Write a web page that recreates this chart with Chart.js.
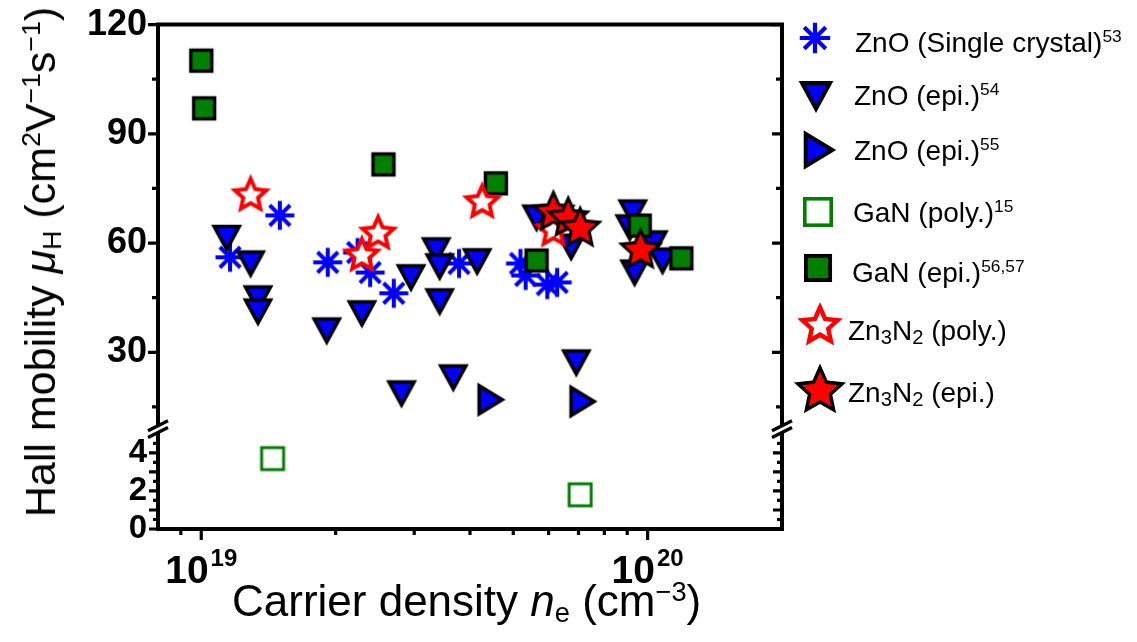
<!DOCTYPE html>
<html lang="en">
<head>
<meta charset="UTF-8">
<title>Hall mobility vs carrier density</title>
<script src="https://cdn.jsdelivr.net/npm/chart.js@4.4.0/dist/chart.umd.min.js"></script>
<style>
  body { margin: 0; background: #fff; }
  #wrap { position: relative; width: 1137px; height: 642px; font-family: "Liberation Sans", Arial, sans-serif; color: #000; }
  #chart { position: absolute; left: 0; top: 0; }
  .lbl { position: absolute; white-space: nowrap; line-height: 32px; }
  .lbl sup { font-size: 0.62em; vertical-align: 0.55em; line-height: 0; }
  .lbl sub { font-size: 0.62em; vertical-align: -0.22em; line-height: 0; }
  .legend { font-size: 28px; }
  .legend sub { font-size: 0.72em; }
  #ytitle { left: 40px; top: 262px; font-size: 43px; line-height: 48px; transform: translate(-50%, -50%) rotate(-90deg); }
  #xtitle { left: 232px; top: 577px; font-size: 44px; line-height: 48px; }
</style>
</head>
<body>
<div id="wrap">
  <canvas id="chart" width="1137" height="642"></canvas>
  <div id="ytitle" class="lbl">Hall mobility <i>μ</i><sub>H</sub> (cm<sup>2</sup>V<sup>−1</sup>s<sup>−1</sup>)</div>
  <div id="xtitle" class="lbl">Carrier density <i>n</i><sub>e</sub> (cm<sup>−3</sup>)</div>
</div>
<script>
// carrier density (cm^-3) and Hall mobility (cm2/Vs) per sample set
const xZnOSingle = [1.16e19, 1.50e19, 1.92e19, 2.24e19, 2.39e19, 2.70e19, 3.78e19, 5.19e19, 5.33e19, 5.96e19, 6.27e19];
const yZnOSingle = [56.1, 67.6, 54.7, 57.4, 51.9, 46.2, 54.4, 54.4, 51.1, 48.6, 49.2];

const xZnOEpi54 = [1.14e19, 1.29e19, 1.34e19, 1.34e19, 1.91e19, 2.29e19, 2.95e19, 2.81e19, 3.36e19, 3.42e19, 3.42e19,
                   4.15e19, 3.67e19, 5.64e19, 6.74e19, 6.92e19, 9.26e19, 9.12e19, 1.03e20, 9.35e19, 1.08e20];
const yZnOEpi54 = [61.4, 54.4, 44.8, 41.2, 36.0, 40.7, 50.6, 18.7, 58.0, 53.6, 44.0,
                   55.0, 23.1, 67.0, 59.0, 27.2, 68.4, 64.3, 59.9, 51.9, 55.2];

const xZnOEpi55 = [4.45e19, 7.15e19];
const yZnOEpi55 = [17.0, 16.5];

const xGaNPoly = [1.445e19, 7.06e19];
const yGaNPoly = [3.7, 1.8];

const xGaNEpi = [1.00e19, 1.015e19, 2.56e19, 4.57e19, 5.64e19, 9.6e19, 1.19e20];
const yGaNEpi = [110.1, 97.0, 81.6, 76.4, 55.2, 64.8, 55.8];

const xZn3N2Poly = [1.29e19, 2.29e19, 2.49e19, 4.26e19, 6.15e19];
const yZn3N2Poly = [73.1, 56.6, 62.6, 71.2, 63.5];

const xZn3N2Epi = [6.15e19, 6.64e19, 7.06e19, 9.64e19];
const yZn3N2Epi = [68.4, 66.8, 64.0, 58.0];

// axis ticks
const xMajorTicks = [1e19, 1e20];
const xMajorExp = ['19', '20'];
const xMinorTicks = [9e18, 2e19, 3e19, 4e19, 5e19, 6e19, 7e19, 8e19, 9e19];
const yUpperTicks = [30, 60, 90, 120];
const yUpperMinor = [15, 45, 75, 105];
const yLowerTicks = [0, 2, 4];
const yLowerMarks = [0, 1, 2, 3, 4];
const yLowerMinor = [0.5, 1.5, 2.5, 3.5, 4.5];

const BLUE = '#0000ff', GREEN = '#007f00', RED = '#ff0000';

function starPath(ctx, R, ratio) {
  ctx.beginPath();
  for (let k = 0; k < 10; k++) {
    const r = k % 2 ? R * ratio : R;
    const a = -Math.PI / 2 + k * Math.PI / 5;
    ctx.lineTo(r * Math.cos(a), r * Math.sin(a));
  }
  ctx.closePath();
}

// draws one marker centred on the current origin
function drawMarker(ctx, kind, s) {
  ctx.save();
  ctx.scale(s, s);
  ctx.lineJoin = 'miter';
  if (kind === 'asterisk') {
    ctx.strokeStyle = BLUE;
    ctx.lineWidth = 4;
    ctx.beginPath();
    for (let k = 0; k < 4; k++) {
      const a = k * Math.PI / 4, dx = 14.5 * Math.cos(a), dy = 14.5 * Math.sin(a);
      ctx.moveTo(-dx, -dy);
      ctx.lineTo(dx, dy);
    }
    ctx.stroke();
  } else if (kind === 'triDown') {
    ctx.beginPath();
    ctx.moveTo(-12.5, -11.5); ctx.lineTo(12.5, -11.5); ctx.lineTo(0, 11.5); ctx.closePath();
    ctx.fillStyle = BLUE; ctx.fill();
    ctx.lineWidth = 3.6; ctx.strokeStyle = '#000'; ctx.stroke();
  } else if (kind === 'triRight') {
    ctx.beginPath();
    ctx.moveTo(-11.5, -14); ctx.lineTo(11.5, 0); ctx.lineTo(-11.5, 14); ctx.closePath();
    ctx.fillStyle = BLUE; ctx.fill();
    ctx.lineWidth = 3.6; ctx.strokeStyle = '#000'; ctx.stroke();
  } else if (kind === 'openSquare') {
    ctx.fillStyle = '#fff';
    ctx.fillRect(-11, -11, 22, 22);
    ctx.lineWidth = 3; ctx.strokeStyle = GREEN;
    ctx.strokeRect(-11, -11, 22, 22);
  } else if (kind === 'square') {
    ctx.fillStyle = GREEN;
    ctx.fillRect(-10.5, -10.5, 21, 21);
    ctx.lineWidth = 3.4; ctx.strokeStyle = '#000';
    ctx.strokeRect(-10.5, -10.5, 21, 21);
  } else if (kind === 'starOpen') {
    starPath(ctx, 16.5, 0.47);
    ctx.fillStyle = '#fff'; ctx.fill();
    ctx.lineWidth = 4; ctx.strokeStyle = RED; ctx.stroke();
  } else if (kind === 'starFilled') {
    starPath(ctx, 16.5, 0.47);
    ctx.lineWidth = 6; ctx.strokeStyle = '#000'; ctx.stroke();
    ctx.fillStyle = RED; ctx.fill();
  }
  ctx.restore();
}

function markerImage(kind) {
  const c = document.createElement('canvas');
  c.width = 50; c.height = 50;
  const g = c.getContext('2d');
  g.translate(25, 25);
  drawMarker(g, kind, 1);
  return c;
}

const series = [
  { name: 'ZnO (Single crystal)<sup>53</sup>', xs: xZnOSingle, ys: yZnOSingle, kind: 'asterisk', axis: 'y', lx: 815, ly: 38, tx: 855, ty: 42, s: 1.05 },
  { name: 'ZnO (epi.)<sup>54</sup>', xs: xZnOEpi54, ys: yZnOEpi54, kind: 'triDown', axis: 'y', lx: 816, ly: 96, tx: 854, ty: 95, s: 1.12 },
  { name: 'ZnO (epi.)<sup>55</sup>', xs: xZnOEpi55, ys: yZnOEpi55, kind: 'triRight', axis: 'y', lx: 819, ly: 150, tx: 854, ty: 150, s: 1.15 },
  { name: 'GaN (poly.)<sup>15</sup>', xs: xGaNPoly, ys: yGaNPoly, kind: 'openSquare', axis: 'y2', lx: 818, ly: 212, tx: 853, ty: 212, s: 1.2 },
  { name: 'GaN (epi.)<sup>56,57</sup>', xs: xGaNEpi, ys: yGaNEpi, kind: 'square', axis: 'y', lx: 818, ly: 268, tx: 852, ty: 272, s: 1.15 },
  { name: 'Zn<sub>3</sub>N<sub>2</sub> (poly.)', xs: xZn3N2Poly, ys: yZn3N2Poly, kind: 'starOpen', axis: 'y', lx: 820, ly: 326, tx: 848, ty: 330, s: 1.12 },
  { name: 'Zn<sub>3</sub>N<sub>2</sub> (epi.)', xs: xZn3N2Epi, ys: yZn3N2Epi, kind: 'starFilled', axis: 'y', lx: 820, ly: 391, tx: 848, ty: 392, s: 1.15 }
];

// legend text
const wrap = document.getElementById('wrap');
series.forEach(sr => {
  const d = document.createElement('div');
  d.className = 'lbl legend';
  d.style.left = sr.tx + 'px';
  d.style.top = (sr.ty - 15) + 'px';
  d.innerHTML = sr.name;
  wrap.appendChild(d);
});

// frame, ticks, axis break and legend markers
const framePlugin = {
  id: 'frame',
  beforeDatasetsDraw(chart) {
    const { ctx, chartArea: a, scales } = chart;
    const x = scales.x, yu = scales.y, yl = scales.y2;
    ctx.save();
    ctx.strokeStyle = '#000';
    ctx.lineCap = 'square';
    ctx.lineWidth = 4;
    ctx.beginPath();
    ctx.moveTo(a.left, a.top); ctx.lineTo(a.right, a.top);
    ctx.moveTo(a.left, a.top); ctx.lineTo(a.left, a.bottom);
    ctx.moveTo(a.right, a.top); ctx.lineTo(a.right, a.bottom);
    ctx.moveTo(a.left, a.bottom); ctx.lineTo(a.right, a.bottom);
    ctx.stroke();

    ctx.lineCap = 'butt';
    ctx.lineWidth = 3.2;
    const yTick = (scale, v, len) => {
      const p = scale.getPixelForValue(v);
      ctx.moveTo(a.left, p); ctx.lineTo(a.left - len, p);
      ctx.moveTo(a.right, p); ctx.lineTo(a.right - len, p);
    };
    ctx.beginPath();
    yUpperTicks.forEach(v => yTick(yu, v, 10));
    yUpperMinor.forEach(v => yTick(yu, v, 6));
    yLowerMarks.forEach(v => yTick(yl, v, 9));
    yLowerMinor.forEach(v => yTick(yl, v, 5));
    xMajorTicks.forEach(v => { const p = x.getPixelForValue(v); ctx.moveTo(p, a.bottom); ctx.lineTo(p, a.bottom + 11); });
    xMinorTicks.forEach(v => { const p = x.getPixelForValue(v); ctx.moveTo(p, a.bottom); ctx.lineTo(p, a.bottom + 6); });
    ctx.stroke();

    // x tick labels as powers of ten
    ctx.fillStyle = '#000';
    ctx.textBaseline = 'alphabetic';
    xMajorTicks.forEach((v, i) => {
      const p = x.getPixelForValue(v);
      ctx.font = 'bold 39px "Liberation Sans", Arial, sans-serif';
      const wb = ctx.measureText('10').width;
      ctx.font = 'bold 24px "Liberation Sans", Arial, sans-serif';
      const we = ctx.measureText(xMajorExp[i]).width;
      const left = p - (wb + 2 + we) / 2;
      ctx.font = 'bold 39px "Liberation Sans", Arial, sans-serif';
      ctx.textAlign = 'left';
      ctx.fillText('10', left, a.bottom + 54);
      ctx.font = 'bold 24px "Liberation Sans", Arial, sans-serif';
      ctx.fillText(xMajorExp[i], left + wb + 2, a.bottom + 37);
    });
    ctx.restore();
  },
  afterDraw(chart) {
    const { ctx, chartArea: a, scales } = chart;
    const yb = scales.y.bottom;
    ctx.save();
    [a.left, a.right].forEach(px => {
      const dx = 10, dy = 5, g = 3.4;
      ctx.fillStyle = '#fff';
      ctx.beginPath();
      ctx.moveTo(px - dx, yb - g + dy);
      ctx.lineTo(px + dx, yb - g - dy);
      ctx.lineTo(px + dx, yb + g - dy);
      ctx.lineTo(px - dx, yb + g + dy);
      ctx.closePath();
      ctx.fill();
      ctx.strokeStyle = '#000';
      ctx.lineWidth = 3.4;
      ctx.beginPath();
      ctx.moveTo(px - dx, yb - g + dy); ctx.lineTo(px + dx, yb - g - dy);
      ctx.moveTo(px - dx, yb + g + dy); ctx.lineTo(px + dx, yb + g - dy);
      ctx.stroke();
    });
    series.forEach(sr => {
      ctx.save();
      ctx.translate(sr.lx, sr.ly);
      drawMarker(ctx, sr.kind, sr.s);
      ctx.restore();
    });
    ctx.restore();
  }
};

const tickFont = { family: '"Liberation Sans", Arial, sans-serif', size: 36, weight: 'bold' };

new Chart(document.getElementById('chart'), {
  type: 'scatter',
  data: {
    datasets: series.map((sr, i) => ({
      label: sr.name,
      data: sr.xs.map((x, j) => ({ x: x, y: sr.ys[j] })),
      pointStyle: markerImage(sr.kind),
      pointRadius: 12,
      yAxisID: sr.axis,
      order: series.length - i,
      clip: false
    }))
  },
  options: {
    responsive: false,
    animation: false,
    layout: { padding: { left: 68, top: 24, right: 355, bottom: 0 } },
    plugins: { legend: { display: false }, tooltip: { enabled: false } },
    scales: {
      x: {
        type: 'logarithmic',
        min: 8e18,
        max: 2e20,
        grid: { display: false },
        border: { display: false },
        ticks: { display: false },
        afterFit(s) { s.height = 113; }
      },
      y: {
        type: 'linear',
        position: 'left',
        stack: 'mu',
        stackWeight: 405,
        weight: 1,
        min: 8.9,
        max: 120,
        grid: { display: false },
        border: { display: false },
        ticks: { color: '#000', font: tickFont, padding: 3, autoSkip: false },
        afterBuildTicks(s) { s.ticks = yUpperTicks.map(v => ({ value: v })); },
        afterFit(s) { s.width = 90; }
      },
      y2: {
        type: 'linear',
        position: 'left',
        stack: 'mu',
        stackWeight: 100,
        weight: 0,
        min: 0,
        max: 5.25,
        grid: { display: false },
        border: { display: false },
        ticks: { color: '#000', font: { family: tickFont.family, size: 33, weight: 'bold' }, padding: 3, autoSkip: false },
        afterBuildTicks(s) { s.ticks = yLowerTicks.map(v => ({ value: v })); },
        afterFit(s) { s.width = 90; }
      }
    }
  },
  plugins: [framePlugin]
});
</script>
</body>
</html>
